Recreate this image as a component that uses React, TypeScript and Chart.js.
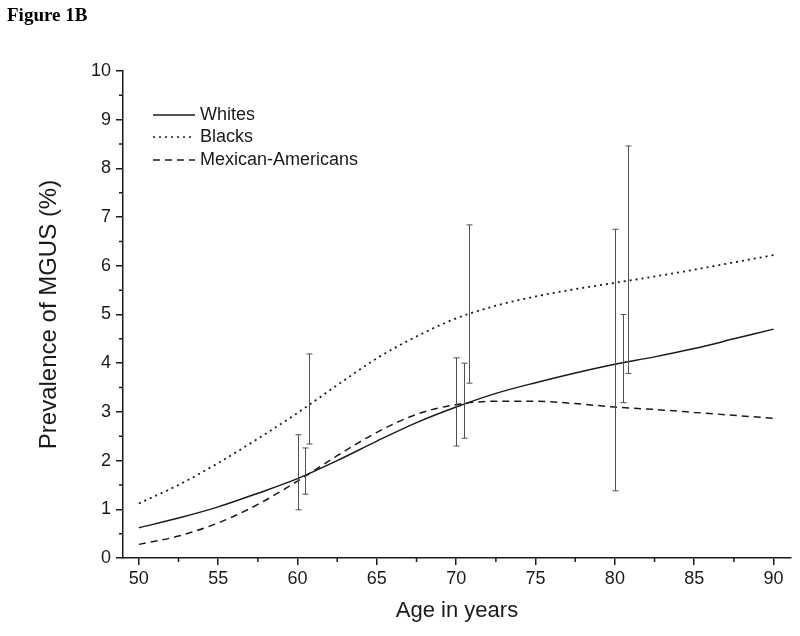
import React, { useEffect, useRef } from "react";
import { Chart, registerables } from "chart.js";
Chart.register(...registerables);

const figureTitle = "Figure 1B";
const xTitle = "Age in years";
const yTitle = "Prevalence of MGUS (%)";

const ages = [50, 52.5, 55, 57.5, 60, 62.5, 65, 67.5, 70, 72.5, 75, 77.5, 80, 82.5, 85, 87.5, 90];
const whites = [0.62, 0.82, 1.05, 1.33, 1.63, 2.0, 2.4, 2.78, 3.1, 3.38, 3.6, 3.8, 3.98, 4.13, 4.3, 4.5, 4.7];
const blacks = [1.12, 1.5, 1.95, 2.45, 2.98, 3.55, 4.1, 4.55, 4.92, 5.18, 5.37, 5.52, 5.65, 5.78, 5.92, 6.07, 6.22];
const mexicanAmericans = [0.28, 0.45, 0.72, 1.1, 1.58, 2.1, 2.58, 2.95, 3.15, 3.22, 3.22, 3.17, 3.1, 3.05, 2.99, 2.93, 2.87];

const seriesLabels = ["Whites", "Blacks", "Mexican-Americans"];

// error bars (95% CI)
const errAges = [60, 60.5, 60.7, 70, 70.5, 70.8, 80, 80.5, 80.8];
const errLow = [0.99, 1.31, 2.34, 2.3, 2.46, 3.59, 1.38, 3.19, 3.79];
const errHigh = [2.53, 2.26, 4.19, 4.11, 4.0, 6.84, 6.75, 5.0, 8.46];

const xTicks = [50, 55, 60, 65, 70, 75, 80, 85, 90];
const xMinorTicks = [52.5, 57.5, 62.5, 67.5, 72.5, 77.5, 82.5, 87.5];
const yMinorTicks = [0.5, 1.5, 2.5, 3.5, 4.5, 5.5, 6.5, 7.5, 8.5, 9.5];

const FONT = '"Liberation Sans", Arial, sans-serif';
const INK = "#1a1a1a";

const toXY = (ys: number[]) => ages.map((a, i) => ({ x: a, y: ys[i] }));

const dashes = [[], [2, 4], [7, 5]];

const extrasPlugin = {
  id: "extras",
  afterDatasetsDraw(chart: any) {
    const ctx = chart.ctx;
    const xs = chart.scales.x;
    const ys = chart.scales.y;
    ctx.save();
    // error bars
    ctx.strokeStyle = "#505050";
    ctx.lineWidth = 1;
    for (let i = 0; i < errAges.length; i++) {
      const px = Math.round(xs.getPixelForValue(errAges[i])) + 0.5;
      const pLo = ys.getPixelForValue(errLow[i]);
      const pHi = ys.getPixelForValue(errHigh[i]);
      ctx.beginPath();
      ctx.moveTo(px, pLo);
      ctx.lineTo(px, pHi);
      ctx.moveTo(px - 3, pLo);
      ctx.lineTo(px + 3, pLo);
      ctx.moveTo(px - 3, pHi);
      ctx.lineTo(px + 3, pHi);
      ctx.stroke();
    }
    ctx.restore();
  },
  afterDraw(chart: any) {
    const ctx = chart.ctx;
    const xs = chart.scales.x;
    const ys = chart.scales.y;
    const area = chart.chartArea;
    ctx.save();
    // minor ticks
    ctx.strokeStyle = INK;
    ctx.lineWidth = 1.5;
    ctx.beginPath();
    for (const v of yMinorTicks) {
      const py = ys.getPixelForValue(v);
      ctx.moveTo(area.left, py);
      ctx.lineTo(area.left - 4, py);
    }
    for (const v of xMinorTicks) {
      const px = xs.getPixelForValue(v);
      ctx.moveTo(px, area.bottom);
      ctx.lineTo(px, area.bottom + 4);
    }
    ctx.stroke();
    // legend
    const lx0 = 153, lx1 = 195, tx = 200;
    const rows = [115, 137, 160];
    ctx.font = `18px ${FONT}`;
    ctx.textBaseline = "middle";
    ctx.fillStyle = INK;
    seriesLabels.forEach((lab, i) => {
      ctx.save();
      ctx.lineWidth = 1.5;
      ctx.strokeStyle = INK;
      ctx.setLineDash(dashes[i]);
      ctx.beginPath();
      ctx.moveTo(lx0, rows[i]);
      ctx.lineTo(lx1, rows[i]);
      ctx.stroke();
      ctx.restore();
      ctx.fillText(lab, tx, rows[i]);
    });
    // figure title
    ctx.font = `bold 19px "Liberation Serif", "Times New Roman", serif`;
    ctx.textBaseline = "alphabetic";
    ctx.fillStyle = "#000";
    ctx.fillText(figureTitle, 7, 21);
    ctx.restore();
  },
};

export default function App() {
  const ref = useRef<HTMLCanvasElement | null>(null);
  useEffect(() => {
    if (!ref.current) return;
    const chart = new Chart(ref.current, {
      type: "line",
      data: {
        datasets: [
          { label: seriesLabels[0], data: toXY(whites), borderColor: INK, borderWidth: 1.5, borderDash: dashes[0] },
          { label: seriesLabels[1], data: toXY(blacks), borderColor: INK, borderWidth: 1.8, borderDash: dashes[1] },
          { label: seriesLabels[2], data: toXY(mexicanAmericans), borderColor: INK, borderWidth: 1.5, borderDash: dashes[2] },
        ].map((d) => ({ ...d, pointRadius: 0, fill: false, cubicInterpolationMode: "monotone" as const })),
      },
      options: {
        responsive: false,
        animation: false,
        layout: { padding: { top: 71, right: 9, left: 0, bottom: 0 } },
        plugins: { legend: { display: false }, tooltip: { enabled: false } },
        scales: {
          x: {
            type: "linear",
            min: 49,
            max: 91.1,
            afterBuildTicks: (s: any) => {
              s.ticks = xTicks.map((v) => ({ value: v }));
            },
            afterFit: (s: any) => {
              s.height = 78;
            },
            ticks: { font: { family: FONT, size: 18 }, color: INK, padding: 3, maxRotation: 0, autoSkip: false },
            grid: { drawOnChartArea: false, drawTicks: true, tickLength: 7, color: INK, lineWidth: 1.5 },
            border: { display: true, color: INK, width: 1.5 },
            title: { display: true, text: xTitle, font: { family: FONT, size: 22 }, color: INK, padding: { top: 0, bottom: 12 } },
          },
          y: {
            min: 0,
            max: 10,
            afterFit: (s: any) => {
              s.width = 123;
            },
            ticks: { stepSize: 1, font: { family: FONT, size: 18 }, color: INK, padding: 5 },
            grid: { drawOnChartArea: false, drawTicks: true, tickLength: 7, color: INK, lineWidth: 1.5 },
            border: { display: true, color: INK, width: 1.5 },
            title: { display: true, text: yTitle, font: { family: FONT, size: 24 }, color: INK, padding: { top: 35, bottom: 0 } },
          },
        },
      },
      plugins: [extrasPlugin],
    } as any);
    return () => chart.destroy();
  }, []);
  return (
    <div style={{ position: "fixed", left: 0, top: 0, width: 800, height: 636, background: "#fff" }}>
      <canvas ref={ref} width={800} height={636} style={{ width: 800, height: 636, display: "block" }} />
    </div>
  );
}
